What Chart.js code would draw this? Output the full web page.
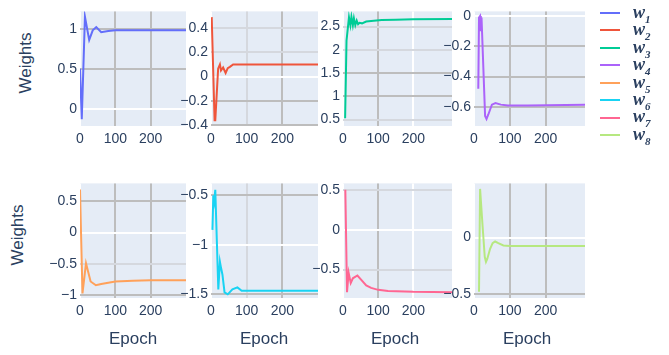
<!DOCTYPE html>
<html>
<head>
<meta charset="utf-8">
<script src="https://cdn.jsdelivr.net/npm/chart.js@4.4.1/dist/chart.umd.min.js"></script>
<style>
    body { margin: 0; background: #fff; width: 669px; height: 355px; overflow: hidden; position: relative;
           font-family: "Liberation Sans", Arial, sans-serif; color: #2a3f5f; }
    canvas { position: absolute; }
    .ytitle { position: absolute; font-size: 17px; white-space: nowrap; transform: translate(-50%, -50%) rotate(-90deg); }
    .xtitle { position: absolute; font-size: 17px; white-space: nowrap; transform: translate(-50%, -50%); }
    .leg { position: absolute; left: 600px; height: 18px; display: flex; align-items: center; }
    .leg i { display: block; width: 20px; height: 2px; margin-right: 13px; }
    .leg span { font: bold italic 18px "Liberation Serif", serif; }
    .leg sub { font-size: 11px; }
</style>
</head>
<body>
<script>
// epochs / weights, one pair per weight
const w1Epoch = [0, 5, 14, 26, 36, 46, 60, 80, 100, 200, 300];
const w1 = [0.5, -0.13, 1.15, 0.86, 0.98, 1.02, 0.955, 0.97, 0.98, 0.98, 0.98];

const w2Epoch = [2, 10, 12, 20, 25, 28, 34, 41, 47, 53, 62, 100, 200, 300];
const w2 = [0.49, -0.36, -0.36, 0.065, 0.1, 0.05, 0.075, 0.03, 0.07, 0.08, 0.1, 0.1, 0.1, 0.1];

const w3Epoch = [6, 10, 17, 21, 24, 28, 31, 35, 39, 43, 47, 54, 66, 80, 110, 150, 200, 310];
const w3 = [0.53, 2.2, 2.7, 2.53, 2.71, 2.53, 2.68, 2.53, 2.63, 2.55, 2.58, 2.57, 2.61, 2.62, 2.64, 2.65, 2.66, 2.665];

const w4Epoch = [12, 14, 17, 19, 21, 31, 35, 40, 50, 60, 75, 95, 150, 310];
const w4 = [-0.48, -0.01, 0, -0.1, -0.01, -0.66, -0.68, -0.65, -0.585, -0.575, -0.585, -0.59, -0.59, -0.585];

const w5Epoch = [0, 7, 17, 30, 45, 60, 100, 150, 200, 300];
const w5 = [0.69, -0.97, -0.49, -0.78, -0.84, -0.82, -0.78, -0.77, -0.76, -0.76];

const w6Epoch = [4, 6.5, 9, 12, 20.5, 25, 28, 32, 38, 47, 60, 74, 86, 100, 200, 300];
const w6 = [-0.85, -0.5, -0.56, -0.445, -1.45, -1.17, -1.23, -1.3, -1.48, -1.5, -1.45, -1.43, -1.465, -1.465, -1.465, -1.465];

const w7Epoch = [6.6, 11.4, 16, 22, 28, 41, 52, 66, 80, 100, 128, 200, 310];
const w7 = [0.5, -0.785, -0.54, -0.67, -0.61, -0.575, -0.63, -0.7, -0.73, -0.755, -0.768, -0.78, -0.785];

const w8Epoch = [14, 17, 24, 30, 33.5, 37, 45, 52, 59, 68, 82, 100, 310];
const w8 = [-0.48, 0.43, 0.1, -0.17, -0.215, -0.19, -0.1, -0.05, -0.035, -0.05, -0.07, -0.075, -0.075];

const names = ['1', '2', '3', '4', '5', '6', '7', '8'];
const colors = ['#636EFA', '#EF553B', '#00CC96', '#AB63FA', '#FFA15A', '#19D3F3', '#FF6692', '#B6E880'];
const epochs = [w1Epoch, w2Epoch, w3Epoch, w4Epoch, w5Epoch, w6Epoch, w7Epoch, w8Epoch];
const weights = [w1, w2, w3, w4, w5, w6, w7, w8];

const xTicks = [0, 100, 200];
const yTicks = [
    [0, 0.5, 1],
    [-0.4, -0.2, 0, 0.2, 0.4],
    [0.5, 1, 1.5, 2, 2.5],
    [-0.6, -0.4, -0.2, 0],
    [-1, -0.5, 0, 0.5],
    [-1.5, -1, -0.5],
    [-0.5, 0, 0.5],
    [-0.5, 0]
];

// layout of the 2x4 grid
const W = '#ffffff', G = '#bdbdbd', L = '#d5d8de';
const YW = 40, XH = 32;
const panels = [
    { left: 80,  top: 0,   w: 106, h: 126, xMax: 300, yMin: -0.216, yMax: 1.216,  gx: [W, G, G], gy: [W, G, G] },
    { left: 211, top: 0,   w: 107, h: 126, xMax: 300, yMin: -0.407, yMax: 0.537,  gx: [W, L, G], gy: [G, G, W, L, L] },
    { left: 343, top: 0,   w: 109, h: 126, xMax: 310, yMin: 0.363,  yMax: 2.827,  gx: [W, G, W], gy: [L, G, G, L, L] },
    { left: 474, top: 0,   w: 111, h: 126, xMax: 310, yMin: -0.726, yMax: 0.03,   gx: [W, G, G], gy: [G, G, G, W] },
    { left: 80,  top: 172, w: 106, h: 126, xMax: 300, yMin: -1.044, yMax: 0.786,  gx: [W, G, G], gy: [G, L, W, G] },
    { left: 211, top: 172, w: 107, h: 126, xMax: 300, yMin: -1.537, yMax: -0.381, gx: [W, L, G], gy: [G, W, G] },
    { left: 343, top: 172, w: 109, h: 126, xMax: 310, yMin: -0.857, yMax: 0.58,   gx: [W, G, W], gy: [L, W, L] },
    { left: 474, top: 172, w: 111, h: 126, xMax: 310, yMin: -0.535, yMax: 0.479,  gx: [W, G, G], gy: [G, W] }
];

Chart.defaults.font.family = '"Liberation Sans", Arial, sans-serif';
Chart.defaults.font.size = 14;
Chart.defaults.color = '#2a3f5f';

const plotBg = {
    id: 'plotBg',
    beforeDraw(chart) {
        const a = chart.chartArea;
        chart.ctx.save();
        chart.ctx.fillStyle = '#E5ECF6';
        chart.ctx.fillRect(a.left, a.top, a.right - a.left, a.bottom - a.top);
        chart.ctx.restore();
    }
};

const fmt = v => String(+Number(v).toFixed(2)).replace('-', '\u2212');

panels.forEach((p, i) => {
    const cv = document.createElement('canvas');
    const cw = YW + p.w, ch = p.h + XH;
    cv.width = cw; cv.height = ch;
    cv.style.left = (p.left - YW) + 'px';
    cv.style.top = p.top + 'px';
    cv.style.width = cw + 'px';
    cv.style.height = ch + 'px';
    document.body.appendChild(cv);

    new Chart(cv, {
        type: 'line',
        data: {
            datasets: [{
                data: epochs[i].map((e, k) => ({ x: e, y: weights[i][k] })),
                borderColor: colors[i],
                borderWidth: 2,
                pointRadius: 0,
                tension: 0,
                fill: false
            }]
        },
        options: {
            responsive: false,
            animation: false,
            events: [],
            layout: { padding: 0, autoPadding: false },
            plugins: { legend: { display: false }, tooltip: { enabled: false } },
            scales: {
                x: {
                    type: 'linear', min: 0, max: p.xMax,
                    afterBuildTicks: s => { s.ticks = xTicks.map(v => ({ value: v })); },
                    afterFit: s => { s.height = XH; },
                    grid: { color: c => p.gx[c.index], lineWidth: 2, drawTicks: false },
                    border: { display: false },
                    ticks: { padding: 5, maxRotation: 0, autoSkip: false, callback: fmt }
                },
                y: {
                    type: 'linear', min: p.yMin, max: p.yMax,
                    afterBuildTicks: s => { s.ticks = yTicks[i].map(v => ({ value: v })); },
                    afterFit: s => { s.width = YW; },
                    grid: { color: c => p.gy[c.index], lineWidth: 2, drawTicks: false },
                    border: { display: false },
                    ticks: { padding: 3, autoSkip: false, callback: fmt }
                }
            }
        },
        plugins: [plotBg]
    });
});

// axis titles
function label(cls, text, x, y) {
    const d = document.createElement('div');
    d.className = cls;
    d.textContent = text;
    d.style.left = x + 'px';
    d.style.top = y + 'px';
    document.body.appendChild(d);
}
label('ytitle', 'Weights', 26, 63);
label('ytitle', 'Weights', 18, 235);
[133, 264, 395, 527].forEach(x => label('xtitle', 'Epoch', x, 339));

// legend
names.forEach((n, i) => {
    const row = document.createElement('div');
    row.className = 'leg';
    row.style.top = (13 + 17.45 * i - 9) + 'px';
    row.innerHTML = '<i style="background:' + colors[i] + '"></i><span>w<sub>' + n + '</sub></span>';
    document.body.appendChild(row);
});
</script>
</body>
</html>
